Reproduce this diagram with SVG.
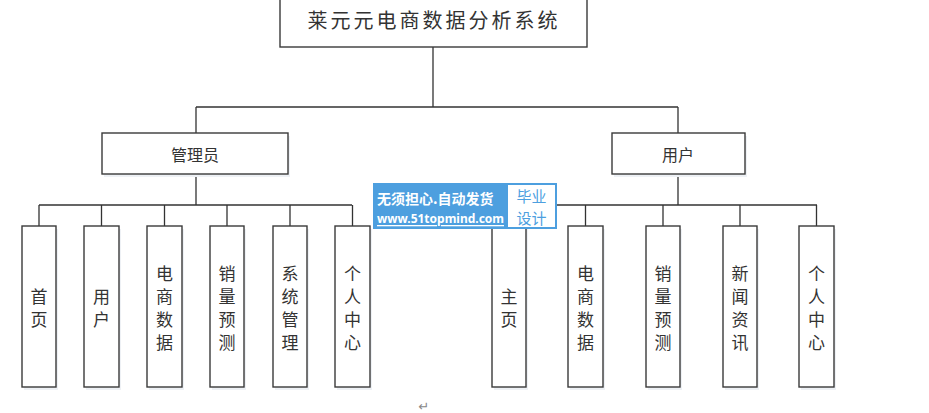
<svg xmlns="http://www.w3.org/2000/svg" width="929" height="413" viewBox="0 0 929 413">
<style>
.box{fill:#fff;stroke:#3a3a3a;stroke-width:1.4}
.sh{fill:#eef1f5}
.ln{stroke:#333;stroke-width:1.3;fill:none}
.t{font-family:"Noto Sans CJK SC","Liberation Sans",sans-serif;fill:#333;text-anchor:middle;dominant-baseline:central}
.v{font-size:17px}
.wb{font-family:"Noto Sans CJK SC",sans-serif;font-size:15px;fill:#4d9fdf;text-anchor:middle;dominant-baseline:central}
</style>
<rect width="929" height="413" fill="#fff"/>
<g id="connectors">
<path class="ln" d="M433 47V107M196 107H678M196 107V133M678 107V133"/>
<path class="ln" d="M196 174V205M39 205H352M39 205V226M101.5 205V226M164.5 205V226M227 205V226M290 205V226M352.5 205V226"/>
<path class="ln" d="M678 174V205M509 205H817M509 205V226M585.5 205V226M663 205V226M740 205V226M816.5 205V226"/>
</g>
<g id="root">
<rect class="box" x="280" y="-1" width="307" height="48"/>
<text class="t" x="434" y="19" style="font-size:20px;letter-spacing:3px">莱元元电商数据分析系统</text>
</g>
<g id="admin">
<rect class="sh" x="104" y="136" width="186" height="41"/>
<rect class="box" x="102" y="133" width="186" height="41"/>
<text class="t" x="195" y="153.5" style="font-size:16px">管理员</text>
</g>
<g id="user">
<rect class="sh" x="614" y="136" width="133" height="41"/>
<rect class="box" x="612" y="133" width="133" height="41"/>
<text class="t" x="678" y="153.5" style="font-size:16px">用户</text>
</g>
<g id="a-home"><rect class="sh" x="24" y="229" width="34" height="161"/><rect class="box" x="22" y="226" width="34" height="161"/>
<text class="t v" x="39"><tspan x="39" y="295">首</tspan><tspan x="39" y="318">页</tspan></text></g>
<g id="a-user"><rect class="sh" x="86" y="229" width="35" height="161"/><rect class="box" x="84" y="226" width="35" height="161"/>
<text class="t v" x="101.5"><tspan x="101.5" y="295">用</tspan><tspan x="101.5" y="318">户</tspan></text></g>
<g id="a-data"><rect class="sh" x="149" y="229" width="35" height="161"/><rect class="box" x="147" y="226" width="35" height="161"/>
<text class="t v"><tspan x="164.5" y="272">电</tspan><tspan x="164.5" y="295">商</tspan><tspan x="164.5" y="318">数</tspan><tspan x="164.5" y="341">据</tspan></text></g>
<g id="a-forecast"><rect class="sh" x="212" y="229" width="34" height="161"/><rect class="box" x="210" y="226" width="34" height="161"/>
<text class="t v"><tspan x="227" y="272">销</tspan><tspan x="227" y="295">量</tspan><tspan x="227" y="318">预</tspan><tspan x="227" y="341">测</tspan></text></g>
<g id="a-system"><rect class="sh" x="275" y="229" width="34" height="161"/><rect class="box" x="273" y="226" width="34" height="161"/>
<text class="t v"><tspan x="290" y="272">系</tspan><tspan x="290" y="295">统</tspan><tspan x="290" y="318">管</tspan><tspan x="290" y="341">理</tspan></text></g>
<g id="a-center"><rect class="sh" x="337" y="229" width="35" height="161"/><rect class="box" x="335" y="226" width="35" height="161"/>
<text class="t v"><tspan x="352.5" y="272">个</tspan><tspan x="352.5" y="295">人</tspan><tspan x="352.5" y="318">中</tspan><tspan x="352.5" y="341">心</tspan></text></g>
<g id="u-home"><rect class="sh" x="494" y="229" width="34" height="161"/><rect class="box" x="492" y="226" width="34" height="161"/>
<text class="t v"><tspan x="509" y="295">主</tspan><tspan x="509" y="318">页</tspan></text></g>
<g id="u-data"><rect class="sh" x="570" y="229" width="35" height="161"/><rect class="box" x="568" y="226" width="35" height="161"/>
<text class="t v"><tspan x="585.5" y="272">电</tspan><tspan x="585.5" y="295">商</tspan><tspan x="585.5" y="318">数</tspan><tspan x="585.5" y="341">据</tspan></text></g>
<g id="u-forecast"><rect class="sh" x="648" y="229" width="34" height="161"/><rect class="box" x="646" y="226" width="34" height="161"/>
<text class="t v"><tspan x="663" y="272">销</tspan><tspan x="663" y="295">量</tspan><tspan x="663" y="318">预</tspan><tspan x="663" y="341">测</tspan></text></g>
<g id="u-news"><rect class="sh" x="725" y="229" width="34" height="161"/><rect class="box" x="723" y="226" width="34" height="161"/>
<text class="t v"><tspan x="740" y="272">新</tspan><tspan x="740" y="295">闻</tspan><tspan x="740" y="318">资</tspan><tspan x="740" y="341">讯</tspan></text></g>
<g id="u-center"><rect class="sh" x="801" y="229" width="35" height="161"/><rect class="box" x="799" y="226" width="35" height="161"/>
<text class="t v"><tspan x="816.5" y="272">个</tspan><tspan x="816.5" y="295">人</tspan><tspan x="816.5" y="318">中</tspan><tspan x="816.5" y="341">心</tspan></text></g>
<g id="watermark">
<rect x="373" y="183" width="184" height="46" fill="#4d9fdf"/>
<rect x="508" y="185" width="47" height="42" fill="#fff"/>
<text x="377" y="198" style="font-family:'Noto Sans CJK SC',sans-serif;font-size:14px;font-weight:bold;fill:#fff;dominant-baseline:central">无须担心.自动发货</text>
<text x="377" y="218" style="font-family:'Noto Sans','Liberation Sans',sans-serif;font-size:13px;font-weight:bold;fill:#fff;text-decoration:underline;dominant-baseline:central" textLength="127" lengthAdjust="spacingAndGlyphs">www.51topmind.com</text>
<text class="wb" x="531.5"><tspan x="531.5" y="195">毕业</tspan><tspan x="531.5" y="217">设计</tspan></text>
</g>
<text x="424" y="406" style="font-family:'DejaVu Sans',sans-serif;font-size:13px;fill:#888;text-anchor:middle;dominant-baseline:central">↵</text>
</svg>
